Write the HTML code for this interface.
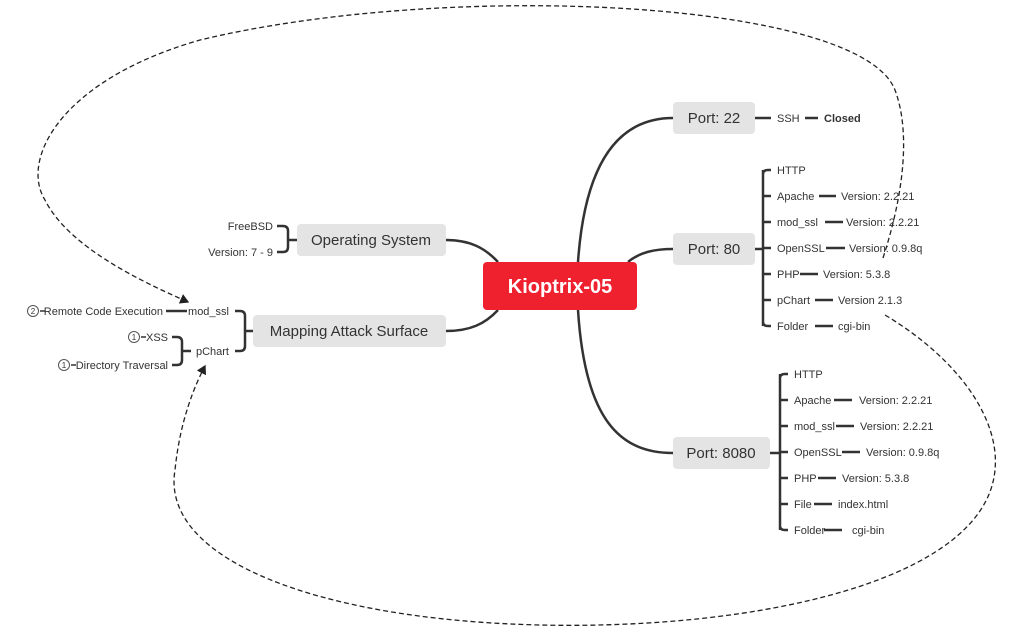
<!DOCTYPE html>
<html><head><meta charset="utf-8"><style>
html,body{margin:0;padding:0;background:#fff;width:1024px;height:634px;overflow:hidden}
svg text{font-family:"Liberation Sans","DejaVu Sans",sans-serif;fill:#333}
.s{font-size:11px}
.b{font-size:15px}
</style></head><body>
<svg width="1024" height="634" viewBox="0 0 1024 634" xmlns="http://www.w3.org/2000/svg">
<defs><marker id="a" markerWidth="8" markerHeight="8" refX="6" refY="4" orient="auto"><path d="M0,0 L7,4 L0,8 z" fill="#222"/></marker></defs>
<g fill="none" stroke="#222" stroke-width="1.3" stroke-dasharray="5,3">
<path d="M883,258 C905,190 910,130 895,90 C860,0 450,-20 200,40 C60,80 20,160 45,200 C70,250 150,285 188,302" marker-end="url(#a)"/>
<path d="M885,315 C960,360 1000,420 995,470 C985,580 760,630 540,625 C320,620 160,560 175,470 C180,420 195,385 205,366" marker-end="url(#a)"/>
</g>
<g fill="none" stroke="#333" stroke-width="2.5">
<path d="M578,262 C585,160 620,118 673,118"/>
<path d="M628,262 C640,252 655,249 673,249"/>
<path d="M578,310 C585,420 620,453 673,453"/>
<path d="M498,262 C485,248 470,240 446,240"/>
<path d="M498,310 C485,324 470,331 446,331"/>
<path d="M755,118 H771 M805,118 H818"/>
<path d="M755,249 H763 M763,170 V326 M763,174 Q763,170 768,170 H771 M763,196 H771 M763,222 H771 M763,248 H771 M763,274 H771 M763,300 H771 M763,322 Q763,326 768,326 H771"/>
<path d="M819,196 H836 M825,222 H843 M826,248 H845 M800,274 H818 M815,300 H833 M815,326 H833"/>
<path d="M770,453 H780 M780,374 V530 M780,378 Q780,374 785,374 H788 M780,400 H788 M780,426 H788 M780,452 H788 M780,478 H788 M780,504 H788 M780,526 Q780,530 785,530 H788"/>
<path d="M834,400 H852 M836,426 H854 M842,452 H860 M818,478 H836 M814,504 H832 M824,530 H842"/>
<path d="M277,226 H283 Q288,226 288,231 V247 Q288,252 283,252 H277 M288,240 H297"/>
<path d="M166,311 H187"/>
<path d="M235,311 H240 Q245,311 245,316 V346 Q245,351 240,351 H235 M245,331 H253"/>
<path d="M172,337 H177 Q182,337 182,342 V360 Q182,365 177,365 H172 M182,351 H191"/>
</g>
<g stroke="#333" stroke-width="1.5"><path d="M40,311 H45 M141,337 H146 M71,365 H76"/></g>
<g fill="#e4e4e4">
<rect x="673" y="102" width="82" height="32" rx="4"/>
<rect x="673" y="233" width="82" height="32" rx="4"/>
<rect x="673" y="437" width="97" height="32" rx="4"/>
<rect x="297" y="224" width="149" height="32" rx="4"/>
<rect x="253" y="315" width="193" height="32" rx="4"/>
</g>
<rect x="483" y="262" width="154" height="48" rx="4" fill="#f0212f"/>
<text x="560" y="293" text-anchor="middle" style="font-size:20px;font-weight:bold;fill:#fff">Kioptrix-05</text>
<text class="b" x="714" y="123" text-anchor="middle">Port: 22</text>
<text class="b" x="714" y="254" text-anchor="middle">Port: 80</text>
<text class="b" x="721" y="458" text-anchor="middle">Port: 8080</text>
<text class="b" x="371" y="245" text-anchor="middle">Operating System</text>
<text class="b" x="349" y="336" text-anchor="middle">Mapping Attack Surface</text>
<g class="s">
<text x="777" y="122">SSH</text><text x="824" y="122" style="font-weight:bold">Closed</text>
<text x="777" y="174">HTTP</text>
<text x="777" y="200">Apache</text><text x="841" y="200">Version: 2.2.21</text>
<text x="777" y="226">mod_ssl</text><text x="846" y="226">Version: 2.2.21</text>
<text x="777" y="252">OpenSSL</text><text x="849" y="252">Version: 0.9.8q</text>
<text x="777" y="278">PHP</text><text x="823" y="278">Version: 5.3.8</text>
<text x="777" y="304">pChart</text><text x="838" y="304">Version 2.1.3</text>
<text x="777" y="330">Folder</text><text x="838" y="330">cgi-bin</text>
<text x="794" y="378">HTTP</text>
<text x="794" y="404">Apache</text><text x="859" y="404">Version: 2.2.21</text>
<text x="794" y="430">mod_ssl</text><text x="860" y="430">Version: 2.2.21</text>
<text x="794" y="456">OpenSSL</text><text x="866" y="456">Version: 0.9.8q</text>
<text x="794" y="482">PHP</text><text x="842" y="482">Version: 5.3.8</text>
<text x="794" y="508">File</text><text x="838" y="508">index.html</text>
<text x="794" y="534">Folder</text><text x="852" y="534">cgi-bin</text>
<text x="273" y="230" text-anchor="end">FreeBSD</text>
<text x="273" y="256" text-anchor="end">Version: 7 - 9</text>
<text x="229" y="315" text-anchor="end">mod_ssl</text>
<text x="229" y="355" text-anchor="end">pChart</text>
<text x="163" y="315" text-anchor="end">Remote Code Execution</text>
<text x="168" y="341" text-anchor="end">XSS</text>
<text x="168" y="369" text-anchor="end">Directory Traversal</text>
</g>
<g fill="#fff" stroke="#555" stroke-width="1">
<circle cx="33" cy="311" r="5.5"/><circle cx="134" cy="337" r="5.5"/><circle cx="64" cy="365" r="5.5"/>
</g>
<g style="font-size:8px" text-anchor="middle">
<text x="33" y="314">2</text><text x="134" y="340">1</text><text x="64" y="368">1</text>
</g>
</svg>
</body></html>
